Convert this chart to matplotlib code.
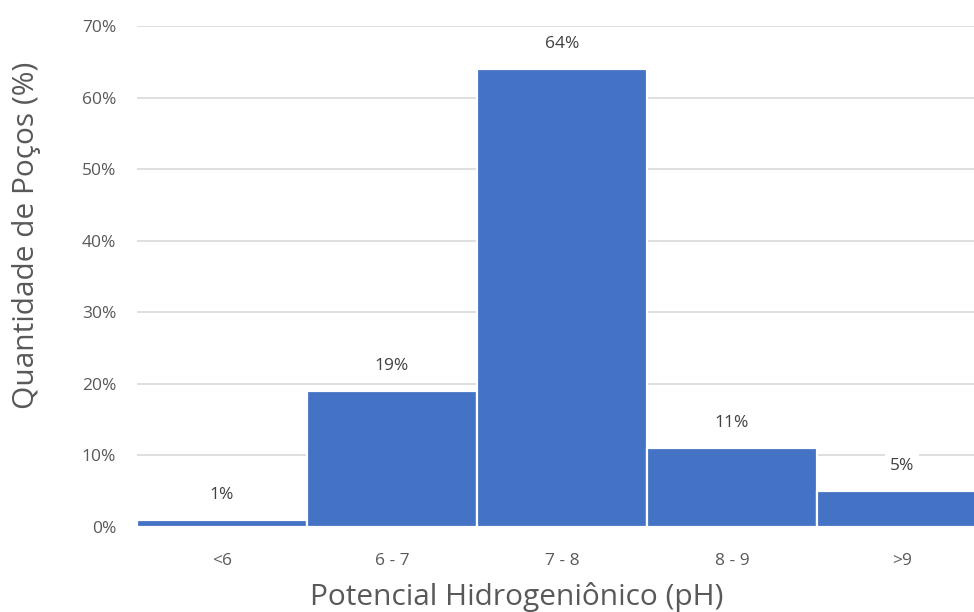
import matplotlib
matplotlib.use('Agg')
import matplotlib.pyplot as plt

# distribuição de pH nos poços
faixas = ['<6', '6 - 7', '7 - 8', '8 - 9', '>9']
percentual = [1, 19, 64, 11, 5]
yticks = [0, 10, 20, 30, 40, 50, 60, 70]

plt.rcParams['font.family'] = ['Open Sans', 'DejaVu Sans']

fig = plt.figure(figsize=(9.74, 6.12), dpi=100)
ax = fig.add_axes([137/974, 1 - 527/612, 850/974, 501/612])

x = range(len(faixas))
ax.bar(x, percentual, width=1.0, color='#4472C4', edgecolor='white', linewidth=1.6, zorder=2)

for xi, v in zip(x, percentual):
    ax.annotate(f'{v}%', (xi, v), xytext=(0, 18), textcoords='offset points',
                ha='center', va='center', fontsize=12.5, color='#404040',
                bbox=dict(boxstyle='square,pad=0.3', fc='white', ec='none'), zorder=3)

ax.set_xlim(-0.5, len(faixas) - 0.5)
ax.set_ylim(0, 70)
ax.set_yticks(yticks)
ax.set_yticklabels([f'{t}%' for t in yticks])
ax.set_xticks(list(x))
ax.set_xticklabels(faixas)
ax.grid(axis='y', color='#d9d9d9', lw=1.2, zorder=0)
ax.set_axisbelow(True)
for s in ax.spines.values():
    s.set_visible(False)
ax.tick_params(axis='both', length=0, labelsize=12.5, colors='#595959')
ax.tick_params(axis='y', pad=15)
ax.tick_params(axis='x', pad=19)

# títulos dos eixos (área do gráfico vai além da borda direita)
fig.text(517/974, 1 - 597/612, 'Potencial Hidrogeniônico (pH)', fontsize=21.5,
         color='#595959', ha='center', va='center')
fig.text(27/974, 1 - 235/612, 'Quantidade de Poços (%)', fontsize=21.5,
         color='#595959', ha='center', va='center', rotation=90)

fig.savefig('out.png', dpi=100)
